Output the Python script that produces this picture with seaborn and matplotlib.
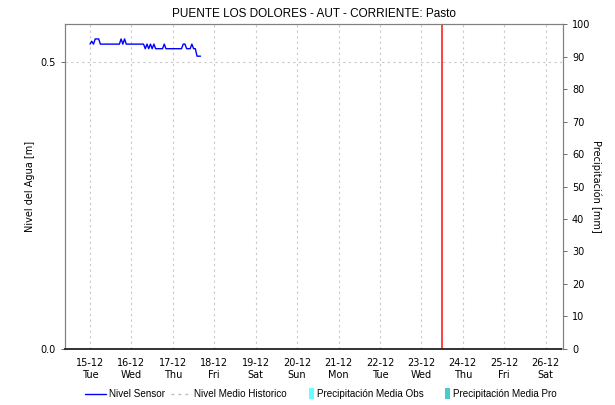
import numpy as np
import pandas as pd
import matplotlib
matplotlib.use("Agg")
import matplotlib.pyplot as plt
import matplotlib.patches as mpatches
from matplotlib.legend_handler import HandlerPatch
import seaborn as sns

# sensor level, hourly from 15-12 00:00
sensor_hours = list(range(65))
sensor_level = [0.531, 0.536, 0.531, 0.540, 0.540, 0.540, 0.531,
                0.531, 0.531, 0.531, 0.531, 0.531, 0.531, 0.531, 0.531, 0.531, 0.531,
                0.531, 0.540, 0.531, 0.540,
                0.531, 0.531, 0.531, 0.531, 0.531, 0.531, 0.531, 0.531, 0.531, 0.531, 0.531,
                0.523, 0.531, 0.523, 0.531, 0.523, 0.531, 0.523,
                0.523, 0.523, 0.523, 0.523, 0.531, 0.523,
                0.523, 0.523, 0.523, 0.523, 0.523, 0.523, 0.523, 0.523, 0.523,
                0.531, 0.531, 0.523, 0.523, 0.523, 0.531, 0.523, 0.523,
                0.510, 0.510, 0.510]
start = pd.Timestamp("2020-12-15 00:00")
days = pd.date_range("2020-12-15", "2020-12-26", freq="D")
precip_obs = [0] * len(days)
precip_pro = [0] * len(days)
now_mark = pd.Timestamp("2020-12-23 12:00")
title = "PUENTE LOS DOLORES - AUT - CORRIENTE: Pasto"

df = pd.DataFrame({"fecha": [start + pd.Timedelta(hours=h) for h in sensor_hours],
                   "nivel": sensor_level})


class NarrowPatch(HandlerPatch):
    # small upright swatch like the original legend
    def create_artists(self, legend, orig_handle, xdescent, ydescent,
                       width, height, fontsize, trans):
        w = height * 0.75
        h = height * 1.5
        p = mpatches.Rectangle((width - w - xdescent, -ydescent - (h - height) / 2), w, h,
                               facecolor=orig_handle.get_facecolor(), edgecolor="none",
                               transform=trans)
        return [p]


sns.set_style("white")
plt.rcParams["font.family"] = ["DejaVu Sans"]
plt.rcParams["text.color"] = "black"
plt.rcParams["axes.labelcolor"] = "black"
fig = plt.figure(figsize=(6.15, 4.05), dpi=100)
ax = fig.add_axes([0.1057, 0.1383, 0.8097, 0.8024])
ax2 = ax.twinx()

b1 = ax2.bar(days, precip_obs, width=0.4, color="#66ffff", label="Precipitación Media Obs")
b2 = ax2.bar(days, precip_pro, width=0.4, color="#4cc9c9", label="Precipitación Media Pro")

sns.lineplot(data=df, x="fecha", y="nivel", ax=ax, color="#0000ff", linewidth=1,
             label="Nivel Sensor", legend=False)
hist, = ax.plot([], [], color="#bbbbbb", linestyle=(0, (2, 3)), linewidth=1,
                label="Nivel Medio Historico")
ax.axvline(now_mark, color="#ff2020", linewidth=1.2)

ax.set_xlim(pd.Timestamp("2020-12-14 09:30"), pd.Timestamp("2020-12-26 10:00"))
ax.set_ylim(0, 0.566)
ax2.set_ylim(0, 100)
ax.set_yticks([0.0, 0.5])
ax.set_yticklabels(["0.0", "0.5"])
ax2.set_yticks(range(0, 101, 10))
ax.set_xticks(days)
ax.set_xticklabels([d.strftime("%d-%m") + "\n" + d.strftime("%a") for d in days])

ax.grid(True, color="#c8c8c8", linestyle=(0, (2, 3)), linewidth=0.8)
ax2.grid(False)
ax.set_zorder(ax2.get_zorder() + 1)
ax.patch.set_visible(False)

for a in (ax, ax2):
    for s in ["left", "right", "top"]:
        a.spines[s].set_color("#808080")
ax2.spines["bottom"].set_visible(False)
ax.spines["bottom"].set_color("#222222")
ax.spines["bottom"].set_linestyle((0, (1, 1)))
ax.spines["bottom"].set_linewidth(1.3)
ax.tick_params(axis="both", labelsize=7, length=3, width=0.6, color="#555555",
               direction="out", labelcolor="black")
ax2.tick_params(axis="y", labelsize=7, length=3, width=0.6, color="#555555",
                direction="out", labelcolor="black")

ax.set_xlabel("")
ax.set_ylabel("Nivel del Agua [m]", fontsize=7, labelpad=4)
ax2.set_ylabel("Precipitación [mm]", fontsize=7, rotation=-90, labelpad=8)
ax.set_title(title, fontsize=8.5, pad=5, color="black",
             family=["Liberation Sans", "DejaVu Sans"])

fig.legend(handles=[ax.get_lines()[0], hist, b1[0], b2[0]],
           labels=["Nivel Sensor", "Nivel Medio Historico",
                   "Precipitación Media Obs", "Precipitación Media Pro"],
           handler_map={mpatches.Rectangle: NarrowPatch()},
           loc="center", bbox_to_anchor=(0.522, 0.027), ncol=4, frameon=False,
           prop={"family": ["Liberation Sans", "DejaVu Sans"], "size": 7.1},
           handlelength=2.1, handletextpad=0.3, columnspacing=0.6)

fig.savefig("out.png", dpi=100)
